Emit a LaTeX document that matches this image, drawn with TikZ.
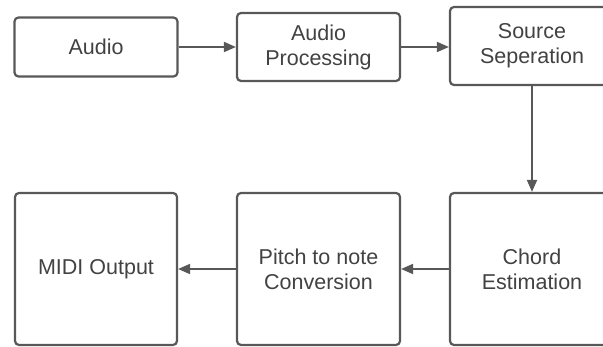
\documentclass[tikz,border=0pt]{standalone}
\usepackage{fontspec}
\setmainfont{Liberation Sans}
\usetikzlibrary{arrows.meta}
\definecolor{edge}{HTML}{585858}
\definecolor{label}{HTML}{424242}
\tikzset{
  block/.style={draw=edge, line width=2.2pt, rounded corners=4pt, fill=white,
    align=center, text=label, inner sep=0pt,
    font=\fontsize{21.5}{25}\selectfont},
  flow/.style={draw=edge, line width=1.8pt, -{Triangle[length=12pt,width=10pt]}}
}
\begin{document}
\begin{tikzpicture}[x=1pt,y=-1pt]
  \useasboundingbox (0,0) rectangle (603,347);
  \clip (0,0) rectangle (603,347);
  \fill[white] (0,0) rectangle (603,347);
  % top row
  \node[block, minimum width=163pt, minimum height=59pt] (audio) at (96,47) {Audio};
  \node[block, minimum width=163pt, minimum height=68pt] (proc) at (318.5,47) {Audio\\Processing};
  \node[block, minimum width=164pt, minimum height=78pt] (sep) at (532,46) {Source\\Seperation};
  % bottom row
  \node[block, minimum width=162pt, minimum height=152pt] (midi) at (96,269) {MIDI Output};
  \node[block, minimum width=163pt, minimum height=152pt] (pitch) at (318.5,269) {Pitch to note\\Conversion};
  \node[block, minimum width=164pt, minimum height=152pt] (chord) at (532,269) {Chord\\Estimation};
  % connectors
  \draw[flow] (audio.east) -- (audio.east -| proc.west);
  \draw[flow] (proc.east) -- (proc.east -| sep.west);
  \draw[flow] (sep.south) -- (chord.north);
  \draw[flow] (chord.west) -- (pitch.east);
  \draw[flow] (pitch.west) -- (midi.east);
\end{tikzpicture}
\end{document}
